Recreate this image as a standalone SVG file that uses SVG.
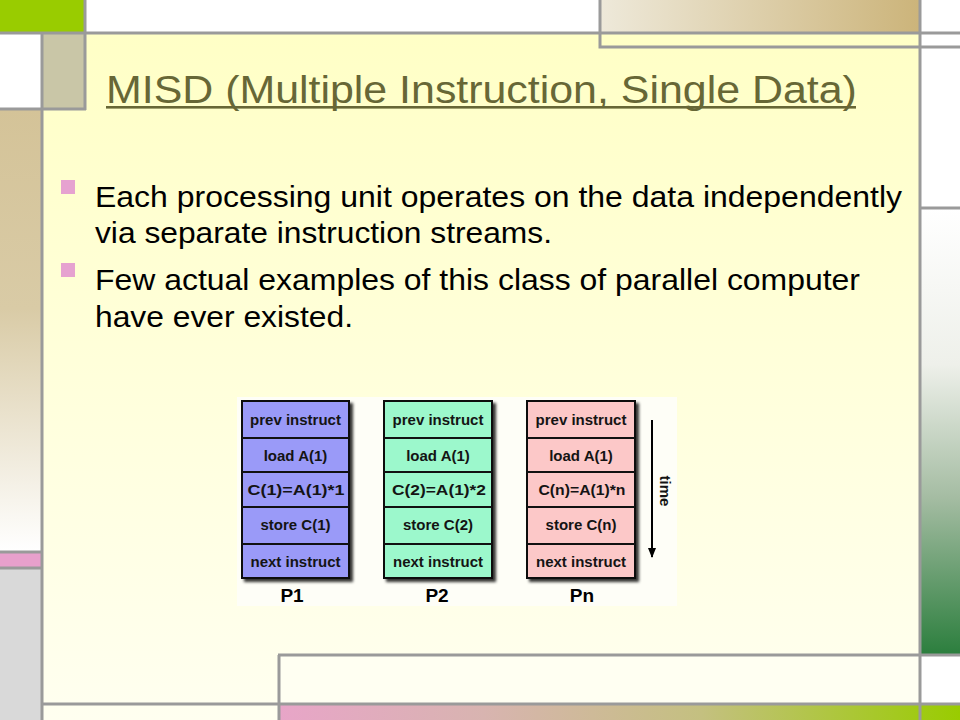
<svg xmlns="http://www.w3.org/2000/svg" width="960" height="720" viewBox="0 0 960 720">
<style>
.ln{stroke:#9a9a9a;stroke-width:3;fill:none}
.title{font-family:"Liberation Sans",Arial,sans-serif;font-size:39px;fill:#676736}
.body{font-family:"Liberation Sans",Arial,sans-serif;font-size:30px;fill:#000}
.bul{fill:#e6a2d0}
.box{stroke:#111;stroke-width:2}
.p1{fill:#9a9af8}
.p2{fill:#9cf8cc}
.pn{fill:#fcc8c8}
.lbl{font-family:"Liberation Sans",Arial,sans-serif;font-size:15px;font-weight:bold;fill:#141414;text-anchor:middle}
.plbl{font-family:"Liberation Sans",Arial,sans-serif;font-size:19px;font-weight:bold;fill:#000;text-anchor:middle}
</style>
<defs>
<linearGradient id="gMain" x1="0" y1="0" x2="0" y2="1">
<stop offset="0" stop-color="#ffffc6"/>
<stop offset="1" stop-color="#fffff0"/>
</linearGradient>
<linearGradient id="gLeft" x1="0" y1="0" x2="0" y2="1">
<stop offset="0" stop-color="#d4c398"/>
<stop offset="0.45" stop-color="#d9cba6"/>
<stop offset="1" stop-color="#ffffff"/>
</linearGradient>
<linearGradient id="gRight" x1="0" y1="0" x2="0" y2="1">
<stop offset="0" stop-color="#ffffff"/>
<stop offset="0.35" stop-color="#eef0ea"/>
<stop offset="0.65" stop-color="#a4bca2"/>
<stop offset="1" stop-color="#2b7e3d"/>
</linearGradient>
<linearGradient id="gTop" x1="0" y1="0" x2="1" y2="0">
<stop offset="0" stop-color="#eee9da"/>
<stop offset="1" stop-color="#ccb47a"/>
</linearGradient>
<linearGradient id="gBot" x1="0" y1="0" x2="1" y2="0">
<stop offset="0" stop-color="#e8a5c8"/>
<stop offset="0.3" stop-color="#d8b4b0"/>
<stop offset="0.62" stop-color="#c4c080"/>
<stop offset="1" stop-color="#99cc00"/>
</linearGradient>
<filter id="sh" x="-10%" y="-10%" width="130%" height="130%">
<feDropShadow dx="3" dy="3" stdDeviation="1.6" flood-color="#000" flood-opacity="0.8"/>
</filter>
<marker id="ah" markerWidth="10" markerHeight="10" refX="9" refY="5" orient="auto" markerUnits="userSpaceOnUse" viewBox="0 0 10 10">
<path d="M0,1 L10,5 L0,9 Z" fill="#000"/>
</marker>
</defs>

<!-- background panels -->
<rect x="0" y="0" width="960" height="720" fill="#ffffff"/>
<rect x="42" y="33" width="878" height="687" fill="url(#gMain)"/>
<rect x="0" y="0" width="85" height="33" fill="#99cc00"/>
<rect x="42" y="33" width="43" height="76" fill="#c9c6a7"/>
<rect x="0" y="109" width="42" height="443" fill="url(#gLeft)"/>
<rect x="0" y="552" width="42" height="16" fill="#e8a0cc"/>
<rect x="0" y="568" width="42" height="152" fill="#d9d9d9"/>
<rect x="600" y="0" width="320" height="33" fill="url(#gTop)"/>
<rect x="920" y="208" width="40" height="447" fill="url(#gRight)"/>
<rect x="279" y="655" width="641" height="49" fill="#fffff2"/>
<rect x="279" y="704" width="681" height="16" fill="url(#gBot)"/>

<!-- frame lines -->
<path class="ln" d="M0,33 H960 M85,0 V110 M42,33 V720 M0,109 H86 M0,552 H42 M0,568 H42 M600,0 V47 H960 M920,0 V720 M920,208 H960 M278,655 H960 M279,655 V720 M42,704 H960"/>

<!-- title (underlined) -->
<text class="title" transform="translate(106,103) scale(1.1,1)" x="0" y="0">MISD (Multiple Instruction, Single Data)</text>
<rect x="106" y="106" width="750" height="2.6" fill="#676736"/>

<!-- bullets -->
<rect class="bul" x="61" y="180" width="14" height="14"/>
<rect class="bul" x="61" y="263" width="14" height="14"/>
<text class="body" x="95" y="207" textLength="807" lengthAdjust="spacingAndGlyphs">Each processing unit operates on the data independently</text>
<text class="body" x="95" y="243" textLength="457" lengthAdjust="spacingAndGlyphs">via separate instruction streams.</text>
<text class="body" x="95" y="290" textLength="765" lengthAdjust="spacingAndGlyphs">Few actual examples of this class of parallel computer</text>
<text class="body" x="95" y="327" textLength="258" lengthAdjust="spacingAndGlyphs">have ever existed.</text>

<!-- diagram panel -->
<rect x="237" y="397" width="440" height="209" fill="#fefef7"/>

<g id="P1">
<rect class="box p1" x="242" y="401" width="107" height="177" filter="url(#sh)"/>
<path class="box" d="M242,438 H349 M242,472 H349 M242,507 H349 M242,544 H349"/>
<text class="lbl" x="295.5" y="425">prev instruct</text>
<text class="lbl" x="295.5" y="461">load A(1)</text>
<text class="lbl" x="296" y="495" textLength="97" lengthAdjust="spacingAndGlyphs">C(1)=A(1)*1</text>
<text class="lbl" x="295.5" y="530">store C(1)</text>
<text class="lbl" x="295.5" y="567">next instruct</text>
<text class="plbl" x="292" y="602">P1</text>
</g>

<g id="P2">
<rect class="box p2" x="384" y="401" width="108" height="177" filter="url(#sh)"/>
<path class="box" d="M384,438 H492 M384,472 H492 M384,507 H492 M384,544 H492"/>
<text class="lbl" x="438" y="425">prev instruct</text>
<text class="lbl" x="438" y="461">load A(1)</text>
<text class="lbl" x="439" y="495" textLength="94" lengthAdjust="spacingAndGlyphs">C(2)=A(1)*2</text>
<text class="lbl" x="438" y="530">store C(2)</text>
<text class="lbl" x="438" y="567">next instruct</text>
<text class="plbl" x="437" y="602">P2</text>
</g>

<g id="Pn">
<rect class="box pn" x="527" y="401" width="108" height="177" filter="url(#sh)"/>
<path class="box" d="M527,438 H635 M527,472 H635 M527,507 H635 M527,544 H635"/>
<text class="lbl" x="581" y="425">prev instruct</text>
<text class="lbl" x="581" y="461">load A(1)</text>
<text class="lbl" x="582" y="495" textLength="87" lengthAdjust="spacingAndGlyphs">C(n)=A(1)*n</text>
<text class="lbl" x="581" y="530">store C(n)</text>
<text class="lbl" x="581" y="567">next instruct</text>
<text class="plbl" x="582" y="602">Pn</text>
</g>

<g id="connectors">
<line x1="652" y1="420" x2="652" y2="557" stroke="#000" stroke-width="2" marker-end="url(#ah)"/>
<text class="lbl" font-size="16" transform="translate(660,491) rotate(90)">time</text>
</g>
</svg>
